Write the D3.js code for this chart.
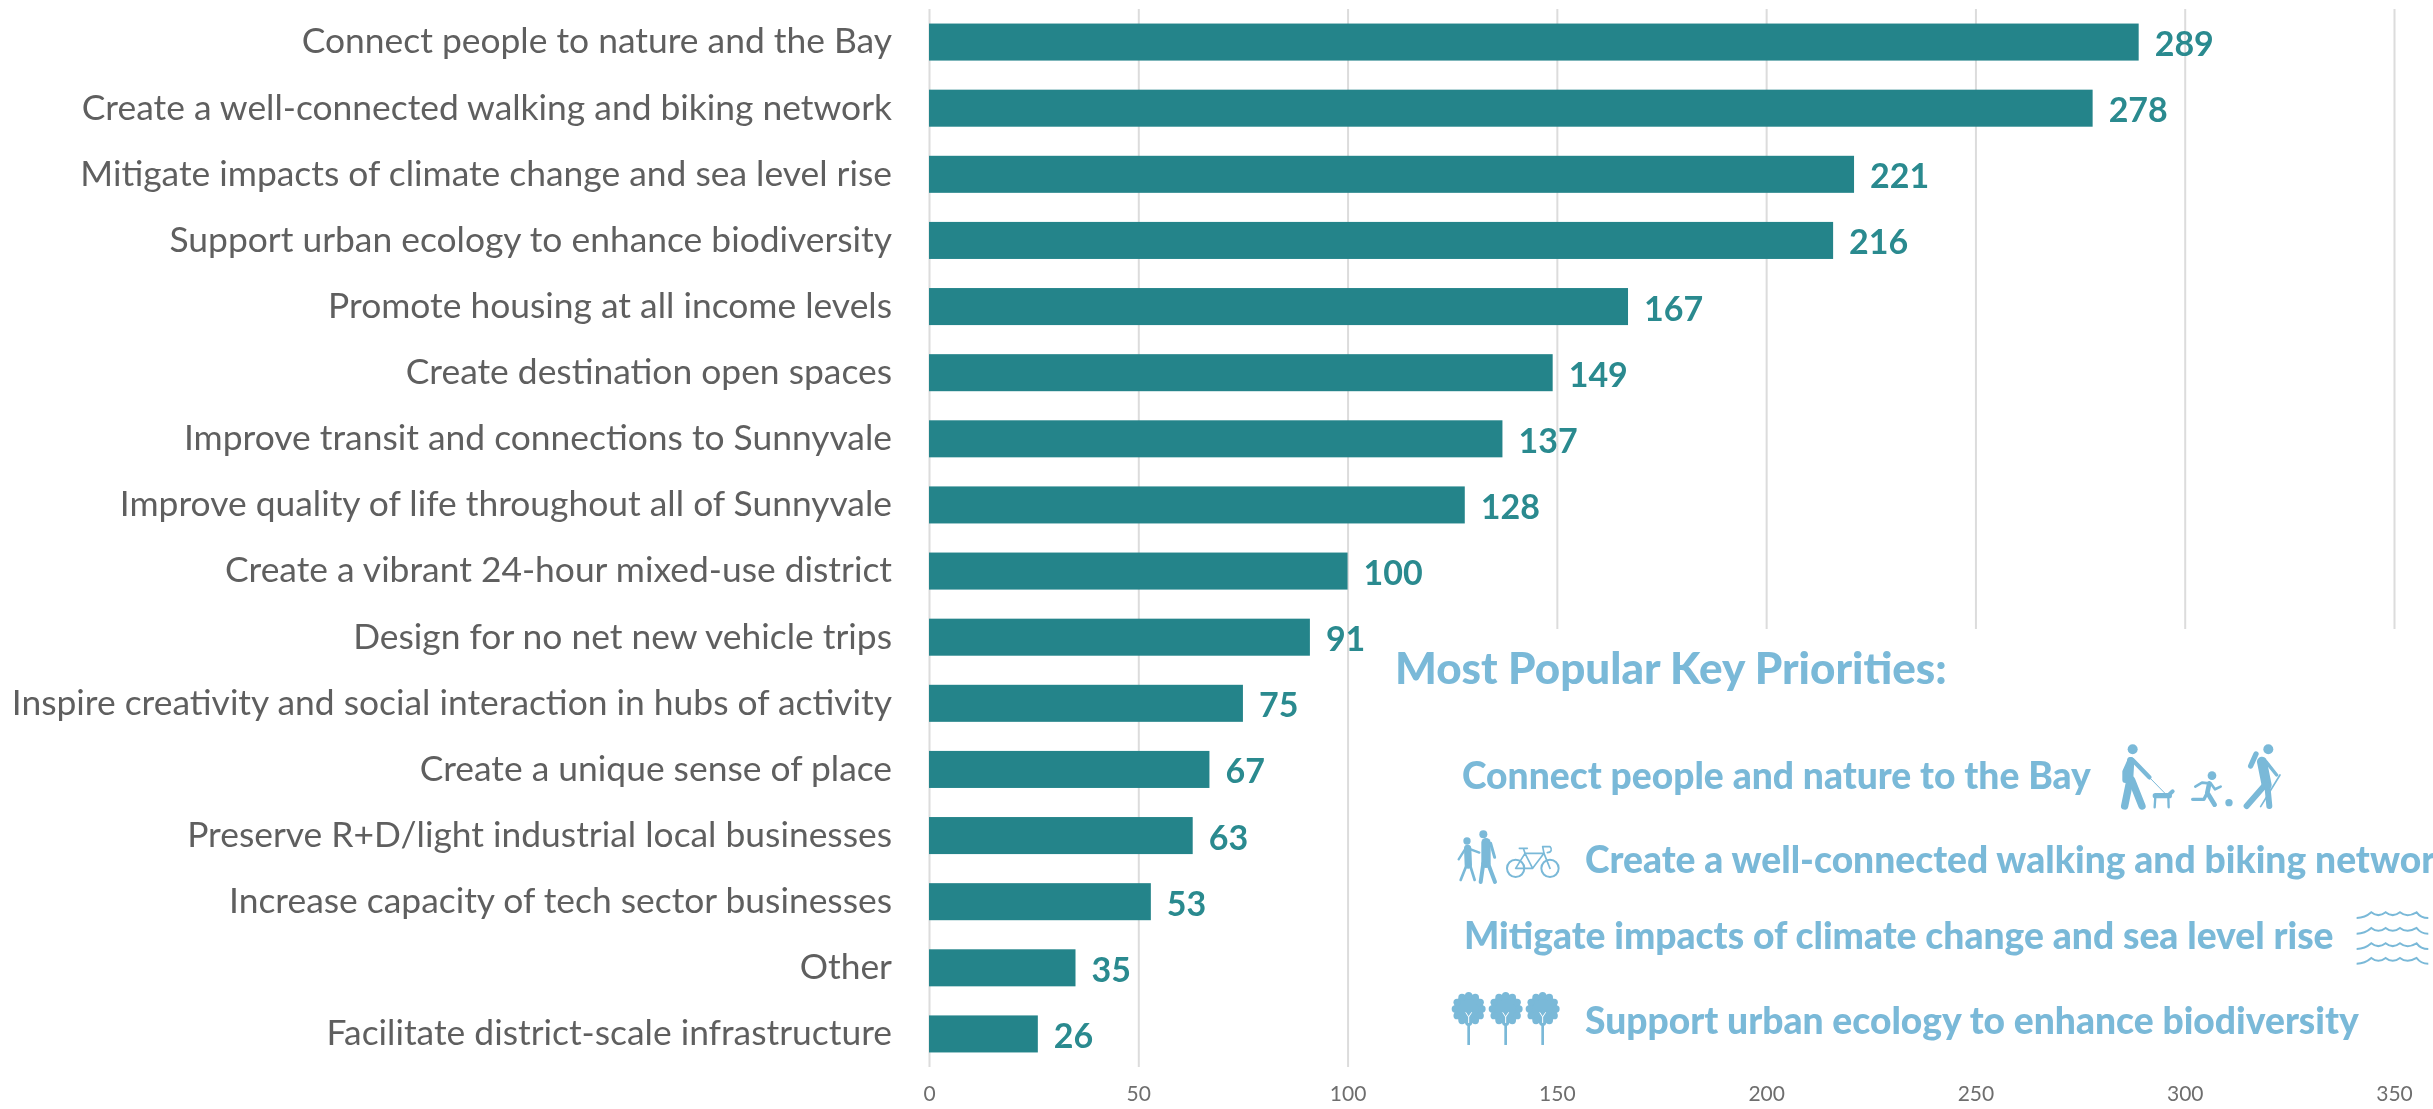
<!DOCTYPE html>
<html>
<head>
<meta charset="utf-8">
<title>Key Priorities</title>
<script src="https://cdn.jsdelivr.net/npm/d3@7"></script>
<style>
  body { margin: 0; background: #fff; overflow: hidden; }
  svg { display: block; filter: blur(0.6px); }
  .cat text { font-family: Lato, sans-serif; font-size: 35.4px; font-weight: 400; fill: #5f5f5f; }
  .xaxis text { font-family: Lato, sans-serif; font-size: 21px; fill: #6e6e6e; }
  .val { font-family: Lato, sans-serif; font-size: 34px; font-weight: 700; fill: #2a8a8f; }
  .key { font-family: Lato, sans-serif; font-weight: 900; fill: #7ab9d8; }
</style>
</head>
<body>
<div id="chart"></div>
<script>
// values
var categories = [
  "Connect people to nature and the Bay",
  "Create a well-connected walking and biking network",
  "Mitigate impacts of climate change and sea level rise",
  "Support urban ecology to enhance biodiversity",
  "Promote housing at all income levels",
  "Create destination open spaces",
  "Improve transit and connections to Sunnyvale",
  "Improve quality of life throughout all of Sunnyvale",
  "Create a vibrant 24-hour mixed-use district",
  "Design for no net new vehicle trips",
  "Inspire creativity and social interaction in hubs of activity",
  "Create a unique sense of place",
  "Preserve R+D/light industrial local businesses",
  "Increase capacity of tech sector businesses",
  "Other",
  "Facilitate district-scale infrastructure"
];
var counts = [289, 278, 221, 216, 167, 149, 137, 128, 100, 91, 75, 67, 63, 53, 35, 26];
var xTicks = [0, 50, 100, 150, 200, 250, 300, 350];

var keyTitle = "Most Popular Key Priorities:";
var keyLines = [
  "Connect people and nature to the Bay",
  "Create a well-connected walking and biking network",
  "Mitigate impacts of climate change and sea level rise",
  "Support urban ecology to enhance biodiversity"
];

var W = 2433, H = 1109;
var svg = d3.select("#chart").append("svg").attr("width", W).attr("height", H);

var x = d3.scaleLinear().domain([0, 350]).range([929, 2394]);
var y = d3.scaleBand().domain(categories).range([9, 1067]).paddingInner(0.44).paddingOuter(0.22);

// gridlines + bottom labels
var xAxis = svg.append("g").attr("class", "xaxis").attr("transform", "translate(0,1067)")
  .call(d3.axisBottom(x).tickValues(xTicks).tickSize(-1058).tickPadding(19));
xAxis.select(".domain").remove();
xAxis.selectAll("line").attr("stroke", "#dcdcdc").attr("stroke-width", 2);

// bars
svg.selectAll("rect.bar").data(categories).join("rect")
  .attr("class", "bar")
  .attr("x", x(0))
  .attr("y", function(d) { return y(d); })
  .attr("height", y.bandwidth())
  .attr("width", function(d, i) { return x(counts[i]) - x(0); })
  .attr("fill", "#24848a");

// category labels
var yAxis = svg.append("g").attr("class", "cat").attr("transform", "translate(929,0)")
  .call(d3.axisLeft(y).tickSize(0).tickPadding(37));
yAxis.select(".domain").remove();

// value labels
svg.selectAll("text.val").data(categories).join("text")
  .attr("class", "val")
  .attr("x", function(d, i) { return x(counts[i]) + 16; })
  .attr("y", function(d) { return y(d) + y.bandwidth() / 2 + 14; })
  .text(function(d, i) { return counts[i]; });

// the pasted key panel hides the gridlines behind it
svg.append("rect").attr("x", 1375).attr("y", 629).attr("width", W - 1375).attr("height", 440).attr("fill", "#fff");

var keyPos = [[1462, 789], [1585, 873], [1464, 949], [1585, 1034]];
svg.append("text").attr("class", "key").attr("x", 1395).attr("y", 684).attr("font-size", 44).text(keyTitle);
svg.selectAll("text.line").data(keyLines).join("text")
  .attr("class", "key line")
  .attr("font-size", 37.2)
  .attr("x", function(d, i) { return keyPos[i][0]; })
  .attr("y", function(d, i) { return keyPos[i][1]; })
  .text(function(d) { return d; });

// icons, traced in zoomed crop units (3x)
var blue = "#7ab9d8";
function limb(g, d, w) {
  g.append("path").attr("d", d).attr("fill", "none").attr("stroke", blue)
    .attr("stroke-width", w).attr("stroke-linecap", "round").attr("stroke-linejoin", "round");
}
function dot(g, cx, cy, r) {
  g.append("circle").attr("cx", cx).attr("cy", cy).attr("r", r).attr("fill", blue);
}

var iconsRight = svg.append("g").attr("transform", "translate(2050,730) scale(0.3333)");
// walker and dog
dot(iconsRight, 248, 58, 15);
limb(iconsRight, "M242 90 L226 125 L226 150", 18);
limb(iconsRight, "M242 92 L238 160 L224 228", 22);
limb(iconsRight, "M245 150 L276 228", 22);
limb(iconsRight, "M250 92 L298 142", 13);
limb(iconsRight, "M298 142 L345 190", 3);
limb(iconsRight, "M316 197 L358 197", 16);
limb(iconsRight, "M316 200 L314 232 M355 200 L356 232", 7);
limb(iconsRight, "M356 195 L368 184", 12);
// runner and ball
dot(iconsRight, 486, 137, 13);
limb(iconsRight, "M478 160 L472 188 L494 224", 14);
limb(iconsRight, "M472 188 L462 208 L428 208", 10);
limb(iconsRight, "M478 160 L456 158 L436 170", 8);
limb(iconsRight, "M482 160 L495 178 L512 170", 8);
dot(iconsRight, 537, 218, 11);
// hiker
dot(iconsRight, 655, 58, 15);
limb(iconsRight, "M636 95 L650 165", 30);
limb(iconsRight, "M618 72 L602 108", 16);
limb(iconsRight, "M645 165 L590 228", 18);
limb(iconsRight, "M652 165 L658 228", 18);
limb(iconsRight, "M648 95 L680 135", 10);
limb(iconsRight, "M690 135 L632 230", 5);
// waves
[555, 602, 648, 692].forEach(function(wy) {
  iconsRight.append("path")
    .attr("d", "M920 " + (wy + 9) + " Q945 " + (wy + 9) + " 964 " + (wy - 8) +
      " Q985 " + (wy + 9) + " 1007 " + (wy - 8) +
      " Q1028 " + (wy + 9) + " 1050 " + (wy - 8) +
      " Q1071 " + (wy + 9) + " 1100 " + (wy - 8) +
      " Q1112 " + (wy + 9) + " 1135 " + (wy + 9))
    .attr("fill", "none").attr("stroke", blue).attr("stroke-width", 6);
});

var iconsLeft = svg.append("g").attr("transform", "translate(1420,810) scale(0.3333)");
// two pedestrians
dot(iconsLeft, 141, 93, 11);
limb(iconsLeft, "M143 115 L145 165", 22);
limb(iconsLeft, "M140 165 L122 210 M150 165 L164 210", 8);
limb(iconsLeft, "M135 118 L116 148", 7);
limb(iconsLeft, "M152 118 L178 128", 7);
dot(iconsLeft, 190, 73, 12);
limb(iconsLeft, "M198 98 L198 160", 28);
limb(iconsLeft, "M190 160 L182 216 M204 160 L225 216", 12);
limb(iconsLeft, "M212 100 L224 142", 9);
// bike
[[287, 175], [390, 175]].forEach(function(c) {
  iconsLeft.append("circle").attr("cx", c[0]).attr("cy", c[1]).attr("r", 26)
    .attr("fill", "none").attr("stroke", blue).attr("stroke-width", 6);
});
limb(iconsLeft, "M287 175 L315 130 L372 130 L390 175 M315 130 L338 175 L372 130 M287 175 L338 175", 5);
limb(iconsLeft, "M298 115 L322 115 M315 130 L310 115", 5);
limb(iconsLeft, "M372 130 L368 110 L390 110 C398 118 394 128 382 128", 5);
// trees
[146, 257, 368].forEach(function(tx) {
  var tree = iconsLeft.append("g").attr("transform", "translate(" + tx + ",597)");
  dot(tree, 0, 0, 44);
  d3.range(0, 360, 30).forEach(function(a) {
    dot(tree, 40 * Math.cos(a * Math.PI / 180), 40 * Math.sin(a * Math.PI / 180), 11);
  });
  tree.append("rect").attr("x", -4).attr("y", 30).attr("width", 8).attr("height", 78).attr("fill", blue);
  tree.append("path").attr("d", "M-9 10 L0 24 L9 10 M0 24 L0 42").attr("fill", "none")
    .attr("stroke", "#fff").attr("stroke-width", 3);
});
</script>
</body>
</html>
